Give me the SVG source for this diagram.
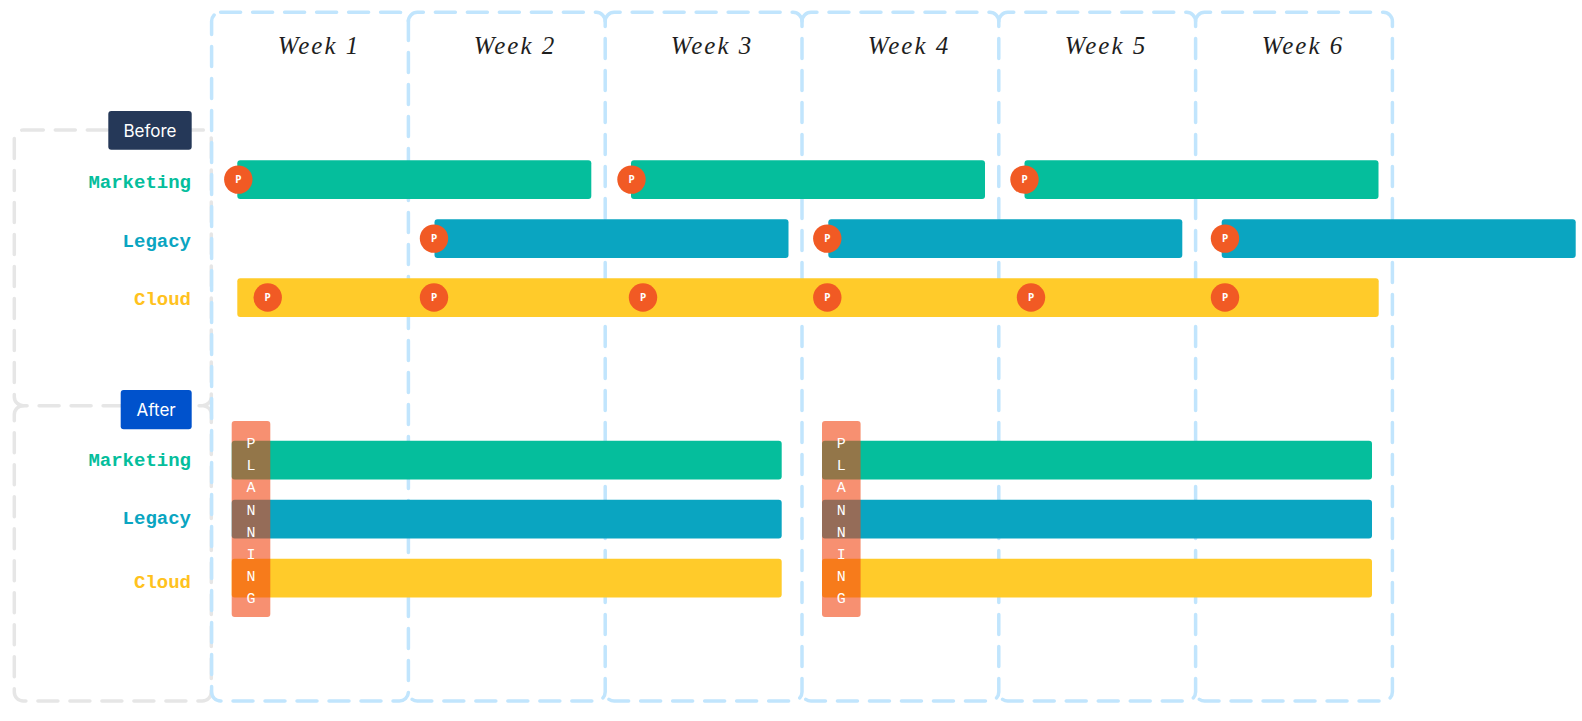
<svg xmlns="http://www.w3.org/2000/svg" width="1582" height="721" viewBox="0 0 1582 721">
<style>
.week{fill:none;stroke:#C1E5FD;stroke-width:3.5;stroke-dasharray:20 12;stroke-linecap:round}
.grp{fill:none;stroke:#E6E6E6;stroke-width:3.5;stroke-dasharray:20 12;stroke-linecap:round}
.wk{font-family:"Liberation Serif",serif;font-style:italic;font-size:25px;fill:#1E1E1E;text-anchor:middle;letter-spacing:2px}
.lbl{font-family:"Liberation Mono",monospace;font-weight:bold;font-size:19px;text-anchor:end}
.mk{fill:#05BE9C}.lg{fill:#0AA5C1}.cl{fill:#FFCB2A}
.clt{fill:#FFC21E}
.tag{font-family:Inter,"Noto Sans",sans-serif;font-size:17px;fill:#FFFFFF;text-anchor:middle}
.p{fill:#F15A24}
.pt{font-family:"Noto Sans",sans-serif;font-weight:bold;font-size:10px;fill:#FFFFFF;text-anchor:middle}
.plan{fill:#F24612;fill-opacity:0.6}
.pl{font-family:"Liberation Mono",monospace;font-size:15px;fill:#FFFFFF;text-anchor:middle}
</style>
<rect width="1582" height="721" fill="#FFFFFF"/>
<g id="groups">
<rect class="grp" x="14.3" y="130" width="197" height="275.7" rx="9"/>
<path class="grp" d="M 23.3,405.7 A 9 9 0 0 0 14.3,414.7 V 692 A 9 9 0 0 0 23.3,701 H 202.3 A 9 9 0 0 0 211.3,692 V 414.7 A 9 9 0 0 0 202.3,405.7"/>
</g>
<g id="weeks">
<g id="week1"><rect class="week" x="211.6" y="12.3" width="196.8" height="688.7" rx="9"/><text class="wk" x="319" y="54">Week 1</text></g>
<g id="week2"><path class="week" d="M 408.4,21.3 A 9 9 0 0 1 417.4,12.3 H 596.2 A 9 9 0 0 1 605.2,21.3 V 692 A 9 9 0 0 1 596.2,701 H 417.4 A 9 9 0 0 1 408.4,692"/><text class="wk" x="515" y="54">Week 2</text></g>
<g id="week3"><path class="week" d="M 605.2,21.3 A 9 9 0 0 1 614.2,12.3 H 793 A 9 9 0 0 1 802,21.3 V 692 A 9 9 0 0 1 793,701 H 614.2 A 9 9 0 0 1 605.2,692"/><text class="wk" x="712" y="54">Week 3</text></g>
<g id="week4"><path class="week" d="M 802,21.3 A 9 9 0 0 1 811,12.3 H 989.8 A 9 9 0 0 1 998.8,21.3 V 692 A 9 9 0 0 1 989.8,701 H 811 A 9 9 0 0 1 802,692"/><text class="wk" x="909" y="54">Week 4</text></g>
<g id="week5"><path class="week" d="M 998.8,21.3 A 9 9 0 0 1 1007.8,12.3 H 1186.6 A 9 9 0 0 1 1195.6,21.3 V 692 A 9 9 0 0 1 1186.6,701 H 1007.8 A 9 9 0 0 1 998.8,692"/><text class="wk" x="1106" y="54">Week 5</text></g>
<g id="week6"><path class="week" d="M 1195.6,21.3 A 9 9 0 0 1 1204.6,12.3 H 1383.4 A 9 9 0 0 1 1392.4,21.3 V 692 A 9 9 0 0 1 1383.4,701 H 1204.6 A 9 9 0 0 1 1195.6,692"/><text class="wk" x="1303" y="54">Week 6</text></g>
</g>
<g id="before-tag"><rect x="108.3" y="111" width="83.4" height="38.7" rx="3" fill="#253858"/><text class="tag" x="150" y="136.5">Before</text></g>
<g id="after-tag"><rect x="120.7" y="390" width="71" height="39.3" rx="3" fill="#0052CC"/><text class="tag" x="156.2" y="415.5">After</text></g>
<g id="labels">
<text class="lbl mk" x="191" y="188.3">Marketing</text>
<text class="lbl lg" x="191" y="246.7">Legacy</text>
<text class="lbl clt" x="191" y="305.3">Cloud</text>
<text class="lbl mk" x="191" y="465.7">Marketing</text>
<text class="lbl lg" x="191" y="524.3">Legacy</text>
<text class="lbl clt" x="191" y="587.7">Cloud</text>
</g>
<g id="before-bars">
<rect class="mk" x="237.3" y="160.3" width="354" height="38.7" rx="3"/>
<rect class="mk" x="631" y="160.3" width="354" height="38.7" rx="3"/>
<rect class="mk" x="1024.5" y="160.3" width="354" height="38.7" rx="3"/>
<rect class="lg" x="434.5" y="219.3" width="354" height="38.7" rx="3"/>
<rect class="lg" x="828.3" y="219.3" width="354" height="38.7" rx="3"/>
<rect class="lg" x="1221.7" y="219.3" width="354" height="38.7" rx="3"/>
<rect class="cl" x="237.3" y="278.3" width="1141.4" height="38.7" rx="3"/>
</g>
<g id="before-markers">
<circle class="p" cx="238.3" cy="179.6" r="14.2"/><text class="pt" x="238.3" y="183.2">P</text>
<circle class="p" cx="631.5" cy="179.6" r="14.2"/><text class="pt" x="631.5" y="183.2">P</text>
<circle class="p" cx="1024.5" cy="179.6" r="14.2"/><text class="pt" x="1024.5" y="183.2">P</text>
<circle class="p" cx="434" cy="238.6" r="14.2"/><text class="pt" x="434" y="242.2">P</text>
<circle class="p" cx="827.3" cy="238.6" r="14.2"/><text class="pt" x="827.3" y="242.2">P</text>
<circle class="p" cx="1225" cy="238.6" r="14.2"/><text class="pt" x="1225" y="242.2">P</text>
<circle class="p" cx="267.7" cy="297.5" r="14.2"/><text class="pt" x="267.7" y="301.1">P</text>
<circle class="p" cx="434" cy="297.5" r="14.2"/><text class="pt" x="434" y="301.1">P</text>
<circle class="p" cx="643" cy="297.5" r="14.2"/><text class="pt" x="643" y="301.1">P</text>
<circle class="p" cx="827.3" cy="297.5" r="14.2"/><text class="pt" x="827.3" y="301.1">P</text>
<circle class="p" cx="1031" cy="297.5" r="14.2"/><text class="pt" x="1031" y="301.1">P</text>
<circle class="p" cx="1225" cy="297.5" r="14.2"/><text class="pt" x="1225" y="301.1">P</text>
</g>
<g id="after-bars">
<rect class="mk" x="231.7" y="440.7" width="550" height="38.7" rx="3"/>
<rect class="lg" x="231.7" y="499.7" width="550" height="38.7" rx="3"/>
<rect class="cl" x="231.7" y="558.7" width="550" height="38.7" rx="3"/>
<rect class="mk" x="822" y="440.7" width="550" height="38.7" rx="3"/>
<rect class="lg" x="822" y="499.7" width="550" height="38.7" rx="3"/>
<rect class="cl" x="822" y="558.7" width="550" height="38.7" rx="3"/>
</g>
<g id="planning1">
<rect class="plan" x="231.7" y="421" width="38.6" height="196" rx="3"/>
<text class="pl" x="251" y="448">P</text>
<text class="pl" x="251" y="470.2">L</text>
<text class="pl" x="251" y="492.4">A</text>
<text class="pl" x="251" y="514.6">N</text>
<text class="pl" x="251" y="536.8">N</text>
<text class="pl" x="251" y="559">I</text>
<text class="pl" x="251" y="581.2">N</text>
<text class="pl" x="251" y="603.4">G</text>
</g>
<g id="planning2">
<rect class="plan" x="822" y="421" width="38.6" height="196" rx="3"/>
<text class="pl" x="841.3" y="448">P</text>
<text class="pl" x="841.3" y="470.2">L</text>
<text class="pl" x="841.3" y="492.4">A</text>
<text class="pl" x="841.3" y="514.6">N</text>
<text class="pl" x="841.3" y="536.8">N</text>
<text class="pl" x="841.3" y="559">I</text>
<text class="pl" x="841.3" y="581.2">N</text>
<text class="pl" x="841.3" y="603.4">G</text>
</g>
</svg>
